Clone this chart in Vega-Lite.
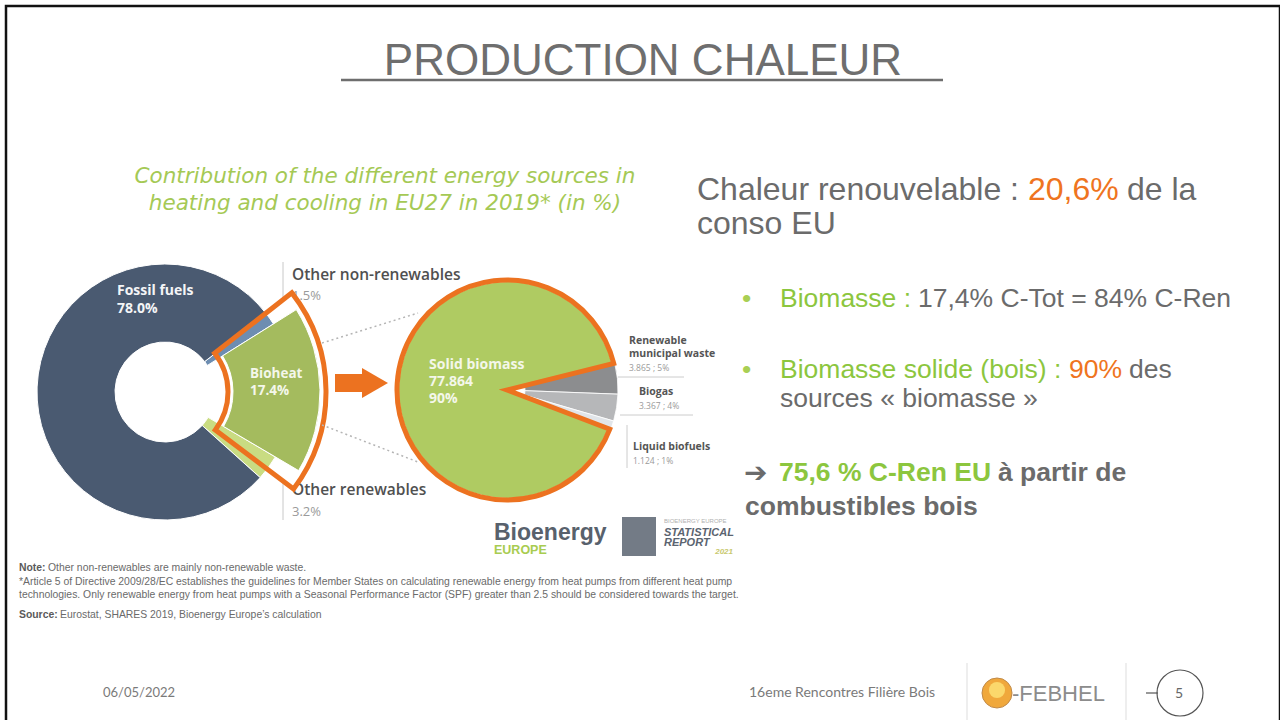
{
  "$schema": "https://vega.github.io/schema/vega-lite/v6.json",
  "width": 1274,
  "height": 716,
  "autosize": {"type": "none"},
  "padding": {"left": 6, "top": 6, "right": 0, "bottom": 0},
  "background": "white",
  "config": {"view": {"stroke": null}},
  "data": {"values": [{}]},
  "datasets": {
    "heat": [
      {"source": "Other non-renewables", "value": 1.5, "k": 1},
      {"source": "Bioheat", "value": 17.4, "k": 2},
      {"source": "Other renewables", "value": 3.2, "k": 3},
      {"source": "Fossil fuels", "value": 78.0, "k": 4}
    ],
    "bio": [
      {"source": "Renewable municipal waste", "value": 3.865, "share": 5, "k": 1},
      {"source": "Biogas", "value": 3.367, "share": 4, "k": 2},
      {"source": "Liquid biofuels", "value": 1.124, "share": 1, "k": 3},
      {"source": "Solid biomass", "value": 77.864, "share": 90, "k": 4}
    ]
  },
  "resolve": {"scale": {"theta": "independent"}},
  "layer": [
    {"mark": {"type": "rect", "fillOpacity": 0, "stroke": "#111111", "strokeWidth": 2.5}, "encoding": {"x": {"value": 0}, "x2": {"value": 1274}, "y": {"value": 0}, "y2": {"value": 720}}},
    {
      "data": {"name": "heat"},
      "transform": [
        {"stack": "value", "groupby": [], "sort": [{"field": "k", "order": "ascending"}], "as": ["v0", "v1"]},
        {"filter": "datum.source !== 'Bioheat'"}
      ],
      "mark": {"type": "arc", "x": 159, "y": 386, "radius": 128, "radius2": 50, "stroke": "white", "strokeWidth": 1},
      "encoding": {
        "theta": {"field": "v0", "type": "quantitative", "stack": null, "scale": {"domain": [0, 100.1], "range": [0.9163, 7.1995]}},
        "theta2": {"field": "v1"},
        "color": {"field": "source", "type": "nominal", "legend": null, "scale": {"domain": ["Fossil fuels", "Other non-renewables", "Bioheat", "Other renewables", "Solid biomass", "Renewable municipal waste", "Biogas", "Liquid biofuels"], "range": ["#4a5a71", "#6d8db1", "#a4bb5e", "#c9dc82", "#afcb62", "#8c8d8f", "#b6b7b9", "#e1e5e9"]}}
      }
    },
    {
      "data": {"name": "heat"},
      "transform": [
        {"stack": "value", "groupby": [], "sort": [{"field": "k", "order": "ascending"}], "as": ["v0", "v1"]},
        {"filter": "datum.source === 'Bioheat'"}
      ],
      "mark": {"type": "arc", "x": 159, "y": 386, "radius": 155, "radius2": 68, "stroke": "white", "strokeWidth": 1},
      "encoding": {
        "theta": {"field": "v0", "type": "quantitative", "stack": null, "scale": {"domain": [0, 100.1], "range": [0.9163, 7.1995]}},
        "theta2": {"field": "v1"},
        "color": {"field": "source", "type": "nominal", "legend": null, "scale": {"domain": ["Fossil fuels", "Other non-renewables", "Bioheat", "Other renewables", "Solid biomass", "Renewable municipal waste", "Biogas", "Liquid biofuels"], "range": ["#4a5a71", "#6d8db1", "#a4bb5e", "#c9dc82", "#afcb62", "#8c8d8f", "#b6b7b9", "#e1e5e9"]}}
      }
    },
    {
      "data": {"name": "heat"},
      "transform": [
        {"filter": "datum.source === 'Fossil fuels'"},
        {"calculate": "datum.source + '\\n' + format(datum.value, '.1f') + '%'", "as": "label"}
      ],
      "mark": {"type": "text", "x": 111, "y": 289, "align": "left", "baseline": "alphabetic", "lineBreak": "\n", "lineHeight": 18, "font": "Open Sans", "fontSize": 14, "fontWeight": "bold", "fill": "#f4f5f7"},
      "encoding": {"text": {"field": "label"}}
    },
    {
      "data": {"name": "heat"},
      "transform": [
        {"filter": "datum.source === 'Bioheat'"},
        {"calculate": "datum.source + '\\n' + format(datum.value, '.1f') + '%'", "as": "label"}
      ],
      "mark": {"type": "text", "x": 244, "y": 372, "align": "left", "baseline": "alphabetic", "lineBreak": "\n", "lineHeight": 17, "font": "Open Sans", "fontSize": 13.5, "fontWeight": "bold", "fill": "#f4f7ea"},
      "encoding": {"text": {"field": "label"}}
    },
    {
      "data": {"name": "heat"},
      "transform": [{"filter": "datum.source === 'Other non-renewables'"}],
      "mark": {"type": "text", "x": 286, "y": 274, "align": "left", "baseline": "alphabetic", "font": "Open Sans", "fontSize": 15.5, "fontWeight": 600, "fill": "#505050"},
      "encoding": {"text": {"field": "source"}}
    },
    {
      "data": {"name": "heat"},
      "transform": [
        {"filter": "datum.source === 'Other non-renewables'"},
        {"calculate": "format(datum.value, '.1f') + '%'", "as": "pct"}
      ],
      "mark": {"type": "text", "x": 286, "y": 294, "align": "left", "baseline": "alphabetic", "font": "Open Sans", "fontSize": 13, "fill": "#9a9a9a"},
      "encoding": {"text": {"field": "pct"}}
    },
    {
      "data": {"name": "heat"},
      "transform": [{"filter": "datum.source === 'Other renewables'"}],
      "mark": {"type": "text", "x": 286, "y": 489, "align": "left", "baseline": "alphabetic", "font": "Open Sans", "fontSize": 15.5, "fontWeight": 600, "fill": "#505050"},
      "encoding": {"text": {"field": "source"}}
    },
    {
      "data": {"name": "heat"},
      "transform": [
        {"filter": "datum.source === 'Other renewables'"},
        {"calculate": "format(datum.value, '.1f') + '%'", "as": "pct"}
      ],
      "mark": {"type": "text", "x": 286, "y": 510, "align": "left", "baseline": "alphabetic", "font": "Open Sans", "fontSize": 13, "fill": "#9a9a9a"},
      "encoding": {"text": {"field": "pct"}}
    },
    {"mark": {"type": "rule", "stroke": "#c8c8c8", "strokeWidth": 1}, "encoding": {"x": {"value": 277}, "x2": {"value": 277}, "y": {"value": 256}, "y2": {"value": 294}}},
    {"mark": {"type": "rule", "stroke": "#c8c8c8", "strokeWidth": 1}, "encoding": {"x": {"value": 277}, "x2": {"value": 277}, "y": {"value": 477}, "y2": {"value": 514}}},
    {
      "data": {"name": "heat"},
      "transform": [
        {"stack": "value", "groupby": [], "sort": [{"field": "k", "order": "ascending"}], "as": ["v0", "v1"]},
        {"filter": "datum.source === 'Bioheat'"}
      ],
      "mark": {"type": "arc", "x": 159, "y": 386, "radius": 161, "radius2": 63, "fillOpacity": 0, "stroke": "#ec7220", "strokeWidth": 5, "strokeJoin": "miter"},
      "encoding": {
        "theta": {"field": "v0", "type": "quantitative", "stack": null, "scale": {"domain": [0, 100.1], "range": [0.7947, 8.325]}},
        "theta2": {"field": "v1"}
      }
    },
    {"mark": {"type": "rule", "stroke": "#b5b5b5", "strokeWidth": 1.5, "strokeDash": [2, 3]}, "encoding": {"x": {"value": 316}, "y": {"value": 337}, "x2": {"value": 412}, "y2": {"value": 307}}},
    {"mark": {"type": "rule", "stroke": "#b5b5b5", "strokeWidth": 1.5, "strokeDash": [2, 3]}, "encoding": {"x": {"value": 316}, "y": {"value": 419}, "x2": {"value": 412}, "y2": {"value": 456}}},
    {"mark": {"type": "rect", "fill": "#ec7220"}, "encoding": {"x": {"value": 329}, "x2": {"value": 357}, "y": {"value": 368}, "y2": {"value": 386}}},
    {"mark": {"type": "point", "shape": "triangle-right", "x": 369, "y": 377, "size": 900, "filled": true, "fill": "#ec7220", "opacity": 1, "strokeWidth": 0}, "encoding": {}},
    {
      "data": {"name": "bio"},
      "transform": [
        {"stack": "value", "groupby": [], "sort": [{"field": "k", "order": "ascending"}], "as": ["v0", "v1"]},
        {"filter": "datum.source !== 'Solid biomass'"}
      ],
      "mark": {"type": "arc", "x": 501, "y": 384, "radius": 111, "radius2": 18, "stroke": "white", "strokeWidth": 0.8},
      "encoding": {
        "theta": {"field": "v0", "type": "quantitative", "stack": null, "scale": {"domain": [0, 86.22], "range": [1.3265, 7.6097]}},
        "theta2": {"field": "v1"},
        "color": {"field": "source", "type": "nominal", "legend": null, "scale": {"domain": ["Fossil fuels", "Other non-renewables", "Bioheat", "Other renewables", "Solid biomass", "Renewable municipal waste", "Biogas", "Liquid biofuels"], "range": ["#4a5a71", "#6d8db1", "#a4bb5e", "#c9dc82", "#afcb62", "#8c8d8f", "#b6b7b9", "#e1e5e9"]}}
      }
    },
    {
      "data": {"name": "bio"},
      "transform": [
        {"stack": "value", "groupby": [], "sort": [{"field": "k", "order": "ascending"}], "as": ["v0", "v1"]},
        {"filter": "datum.source === 'Solid biomass'"}
      ],
      "mark": {"type": "arc", "x": 501, "y": 384, "radius": 108, "radius2": 0},
      "encoding": {
        "theta": {"field": "v0", "type": "quantitative", "stack": null, "scale": {"domain": [0, 86.22], "range": [1.3265, 7.6097]}},
        "theta2": {"field": "v1"},
        "color": {"field": "source", "type": "nominal", "legend": null, "scale": {"domain": ["Fossil fuels", "Other non-renewables", "Bioheat", "Other renewables", "Solid biomass", "Renewable municipal waste", "Biogas", "Liquid biofuels"], "range": ["#4a5a71", "#6d8db1", "#a4bb5e", "#c9dc82", "#afcb62", "#8c8d8f", "#b6b7b9", "#e1e5e9"]}}
      }
    },
    {
      "data": {"name": "bio"},
      "transform": [
        {"stack": "value", "groupby": [], "sort": [{"field": "k", "order": "ascending"}], "as": ["v0", "v1"]},
        {"filter": "datum.source === 'Solid biomass'"}
      ],
      "mark": {"type": "arc", "x": 501, "y": 384, "radius": 110, "radius2": 0, "fillOpacity": 0, "stroke": "#ec7220", "strokeWidth": 5, "strokeJoin": "miter"},
      "encoding": {
        "theta": {"field": "v0", "type": "quantitative", "stack": null, "scale": {"domain": [0, 86.22], "range": [1.3265, 7.6097]}},
        "theta2": {"field": "v1"}
      }
    },
    {
      "data": {"name": "bio"},
      "transform": [
        {"filter": "datum.source === 'Solid biomass'"},
        {"calculate": "datum.source + '\\n' + format(datum.value, '.3f') + '\\n' + datum.share + '%'", "as": "label"}
      ],
      "mark": {"type": "text", "x": 423, "y": 363, "align": "left", "baseline": "alphabetic", "lineBreak": "\n", "lineHeight": 17, "font": "Open Sans", "fontSize": 14, "fontWeight": "bold", "fill": "#f4f7ea"},
      "encoding": {"text": {"field": "label"}}
    },
    {
      "data": {"name": "bio"},
      "transform": [
        {"filter": "datum.source === 'Renewable municipal waste'"},
        {"calculate": "replace(datum.source, 'Renewable ', 'Renewable\\n')", "as": "label"}
      ],
      "mark": {"type": "text", "x": 623, "y": 338, "align": "left", "baseline": "alphabetic", "lineBreak": "\n", "lineHeight": 13, "font": "Open Sans", "fontSize": 10.5, "fontWeight": "bold", "fill": "#555555"},
      "encoding": {"text": {"field": "label"}}
    },
    {
      "data": {"name": "bio"},
      "transform": [
        {"filter": "datum.source === 'Renewable municipal waste'"},
        {"calculate": "format(datum.value, '.3f') + ' ; ' + datum.share + '%'", "as": "lab"}
      ],
      "mark": {"type": "text", "x": 623, "y": 365, "align": "left", "baseline": "alphabetic", "font": "Open Sans", "fontSize": 8.5, "fill": "#9a9a9a"},
      "encoding": {"text": {"field": "lab"}}
    },
    {
      "data": {"name": "bio"},
      "transform": [{"filter": "datum.source === 'Biogas'"}],
      "mark": {"type": "text", "x": 633, "y": 389, "align": "left", "baseline": "alphabetic", "font": "Open Sans", "fontSize": 10.5, "fontWeight": "bold", "fill": "#555555"},
      "encoding": {"text": {"field": "source"}}
    },
    {
      "data": {"name": "bio"},
      "transform": [
        {"filter": "datum.source === 'Biogas'"},
        {"calculate": "format(datum.value, '.3f') + ' ; ' + datum.share + '%'", "as": "lab"}
      ],
      "mark": {"type": "text", "x": 633, "y": 403, "align": "left", "baseline": "alphabetic", "font": "Open Sans", "fontSize": 8.5, "fill": "#9a9a9a"},
      "encoding": {"text": {"field": "lab"}}
    },
    {
      "data": {"name": "bio"},
      "transform": [{"filter": "datum.source === 'Liquid biofuels'"}],
      "mark": {"type": "text", "x": 627, "y": 444, "align": "left", "baseline": "alphabetic", "font": "Open Sans", "fontSize": 10.5, "fontWeight": "bold", "fill": "#555555"},
      "encoding": {"text": {"field": "source"}}
    },
    {
      "data": {"name": "bio"},
      "transform": [
        {"filter": "datum.source === 'Liquid biofuels'"},
        {"calculate": "format(datum.value, '.3f') + ' ; ' + datum.share + '%'", "as": "lab"}
      ],
      "mark": {"type": "text", "x": 627, "y": 458, "align": "left", "baseline": "alphabetic", "font": "Open Sans", "fontSize": 8.5, "fill": "#9a9a9a"},
      "encoding": {"text": {"field": "lab"}}
    },
    {"mark": {"type": "rule", "stroke": "#cccccc", "strokeWidth": 1}, "encoding": {"x": {"value": 612}, "x2": {"value": 678}, "y": {"value": 371}, "y2": {"value": 371}}},
    {"mark": {"type": "rule", "stroke": "#cccccc", "strokeWidth": 1}, "encoding": {"x": {"value": 614}, "x2": {"value": 687}, "y": {"value": 409}, "y2": {"value": 409}}},
    {"mark": {"type": "rule", "stroke": "#cccccc", "strokeWidth": 1}, "encoding": {"x": {"value": 621}, "x2": {"value": 621}, "y": {"value": 419}, "y2": {"value": 462}}},
    {"mark": {"type": "text", "text": "PRODUCTION CHALEUR", "x": 637, "y": 69, "align": "center", "baseline": "alphabetic", "font": "Liberation Sans", "fontSize": 44, "fill": "#6e6e6e"}, "encoding": {}},
    {"mark": {"type": "rule", "stroke": "#6e6e6e", "strokeWidth": 2.5}, "encoding": {"x": {"value": 335}, "x2": {"value": 937}, "y": {"value": 74}, "y2": {"value": 74}}},
    {"mark": {"type": "text", "text": "Contribution of the different energy sources in", "x": 379, "y": 171, "align": "center", "baseline": "middle", "font": "DejaVu Sans", "fontSize": 21.5, "fontStyle": "italic", "fontWeight": 500, "fill": "#a5c955"}, "encoding": {}},
    {"mark": {"type": "text", "text": "heating and cooling in EU27 in 2019* (in %)", "x": 379, "y": 198, "align": "center", "baseline": "middle", "font": "DejaVu Sans", "fontSize": 21.5, "fontStyle": "italic", "fontWeight": 500, "fill": "#a5c955"}, "encoding": {}},
    {"mark": {"type": "text", "text": "Bioenergy", "x": 488, "y": 534, "align": "left", "baseline": "alphabetic", "font": "Liberation Sans", "fontSize": 23, "fontWeight": "bold", "fill": "#58616c"}, "encoding": {}},
    {"mark": {"type": "text", "text": "EUROPE", "x": 488, "y": 548, "align": "left", "baseline": "alphabetic", "font": "Liberation Sans", "fontSize": 12.5, "fontWeight": "bold", "fill": "#a8cc50"}, "encoding": {}},
    {"mark": {"type": "rect", "fill": "#737b86"}, "encoding": {"x": {"value": 616}, "x2": {"value": 650}, "y": {"value": 511}, "y2": {"value": 550}}},
    {"mark": {"type": "text", "text": "BIOENERGY EUROPE", "x": 658, "y": 517, "align": "left", "baseline": "alphabetic", "font": "Liberation Sans", "fontSize": 6, "fill": "#b0b0b0"}, "encoding": {}},
    {"mark": {"type": "text", "text": "STATISTICAL", "x": 658, "y": 530, "align": "left", "baseline": "alphabetic", "font": "Liberation Sans", "fontSize": 11, "fontStyle": "italic", "fontWeight": "bold", "fill": "#5b6470"}, "encoding": {}},
    {"mark": {"type": "text", "text": "REPORT", "x": 658, "y": 540, "align": "left", "baseline": "alphabetic", "font": "Liberation Sans", "fontSize": 11, "fontStyle": "italic", "fontWeight": "bold", "fill": "#5b6470"}, "encoding": {}},
    {"mark": {"type": "text", "text": "2021", "x": 727, "y": 548, "align": "right", "baseline": "alphabetic", "font": "Liberation Sans", "fontSize": 8, "fontStyle": "italic", "fontWeight": "bold", "fill": "#c9c96e"}, "encoding": {}},
    {"mark": {"type": "text", "text": "Note:", "x": 13, "y": 565, "align": "left", "baseline": "alphabetic", "font": "Liberation Sans", "fontSize": 10.4, "fontWeight": "bold", "fill": "#5a5a5a"}, "encoding": {}},
    {"mark": {"type": "text", "text": "Other non-renewables are mainly non-renewable waste.", "x": 42, "y": 565, "align": "left", "baseline": "alphabetic", "font": "Liberation Sans", "fontSize": 10.4, "fill": "#6a6a6a"}, "encoding": {}},
    {"mark": {"type": "text", "text": "*Article 5 of Directive 2009/28/EC establishes the guidelines for Member States on calculating renewable energy from heat pumps from different heat pump", "x": 13, "y": 579, "align": "left", "baseline": "alphabetic", "font": "Liberation Sans", "fontSize": 10.4, "fill": "#6a6a6a"}, "encoding": {}},
    {"mark": {"type": "text", "text": "technologies. Only renewable energy from heat pumps with a Seasonal Performance Factor (SPF) greater than 2.5 should be considered towards the target.", "x": 13, "y": 592, "align": "left", "baseline": "alphabetic", "font": "Liberation Sans", "fontSize": 10.4, "fill": "#6a6a6a"}, "encoding": {}},
    {"mark": {"type": "text", "text": "Source:", "x": 13, "y": 612, "align": "left", "baseline": "alphabetic", "font": "Liberation Sans", "fontSize": 10.4, "fontWeight": "bold", "fill": "#5a5a5a"}, "encoding": {}},
    {"mark": {"type": "text", "text": "Eurostat, SHARES 2019, Bioenergy Europe’s calculation", "x": 54, "y": 612, "align": "left", "baseline": "alphabetic", "font": "Liberation Sans", "fontSize": 10.4, "fill": "#6a6a6a"}, "encoding": {}},
    {"mark": {"type": "text", "text": "Chaleur renouvelable :", "x": 691, "y": 194, "align": "left", "baseline": "alphabetic", "font": "Liberation Sans", "fontSize": 32, "fill": "#6b6b6b"}, "encoding": {}},
    {"mark": {"type": "text", "text": "20,6%", "x": 1022, "y": 194, "align": "left", "baseline": "alphabetic", "font": "Liberation Sans", "fontSize": 32, "fill": "#ef7420"}, "encoding": {}},
    {"mark": {"type": "text", "text": "de la", "x": 1121, "y": 194, "align": "left", "baseline": "alphabetic", "font": "Liberation Sans", "fontSize": 32, "fill": "#6b6b6b"}, "encoding": {}},
    {"mark": {"type": "text", "text": "conso EU", "x": 691, "y": 228, "align": "left", "baseline": "alphabetic", "font": "Liberation Sans", "fontSize": 32, "fill": "#6b6b6b"}, "encoding": {}},
    {"mark": {"type": "text", "text": "•", "x": 736, "y": 301, "align": "left", "baseline": "alphabetic", "font": "Liberation Sans", "fontSize": 26.5, "fill": "#a9cf54"}, "encoding": {}},
    {"mark": {"type": "text", "text": "Biomasse :", "x": 774, "y": 301, "align": "left", "baseline": "alphabetic", "font": "Liberation Sans", "fontSize": 26.5, "fill": "#8cc63e"}, "encoding": {}},
    {"mark": {"type": "text", "text": "17,4% C-Tot = 84% C-Ren", "x": 912, "y": 301, "align": "left", "baseline": "alphabetic", "font": "Liberation Sans", "fontSize": 26.5, "fill": "#6b6b6b"}, "encoding": {}},
    {"mark": {"type": "text", "text": "•", "x": 736, "y": 372, "align": "left", "baseline": "alphabetic", "font": "Liberation Sans", "fontSize": 26.5, "fill": "#a9cf54"}, "encoding": {}},
    {"mark": {"type": "text", "text": "Biomasse solide (bois) :", "x": 774, "y": 372, "align": "left", "baseline": "alphabetic", "font": "Liberation Sans", "fontSize": 26.5, "fill": "#8cc63e"}, "encoding": {}},
    {"mark": {"type": "text", "text": "90%", "x": 1063, "y": 372, "align": "left", "baseline": "alphabetic", "font": "Liberation Sans", "fontSize": 26.5, "fill": "#ef7420"}, "encoding": {}},
    {"mark": {"type": "text", "text": "des", "x": 1123, "y": 372, "align": "left", "baseline": "alphabetic", "font": "Liberation Sans", "fontSize": 26.5, "fill": "#6b6b6b"}, "encoding": {}},
    {"mark": {"type": "text", "text": "sources « biomasse »", "x": 774, "y": 401, "align": "left", "baseline": "alphabetic", "font": "Liberation Sans", "fontSize": 26.5, "fill": "#6b6b6b"}, "encoding": {}},
    {"mark": {"type": "text", "text": "➔", "x": 738, "y": 476, "align": "left", "baseline": "alphabetic", "font": "DejaVu Sans", "fontSize": 28, "fontWeight": "bold", "fill": "#6b6b6b"}, "encoding": {}},
    {"mark": {"type": "text", "text": "75,6 % C-Ren EU", "x": 773, "y": 475, "align": "left", "baseline": "alphabetic", "font": "Liberation Sans", "fontSize": 26.5, "fontWeight": "bold", "fill": "#8cc63e"}, "encoding": {}},
    {"mark": {"type": "text", "text": "à partir de", "x": 992, "y": 475, "align": "left", "baseline": "alphabetic", "font": "Liberation Sans", "fontSize": 26.5, "fontWeight": "bold", "fill": "#6b6b6b"}, "encoding": {}},
    {"mark": {"type": "text", "text": "combustibles bois", "x": 739, "y": 509, "align": "left", "baseline": "alphabetic", "font": "Liberation Sans", "fontSize": 26.5, "fontWeight": "bold", "fill": "#6b6b6b"}, "encoding": {}},
    {"mark": {"type": "text", "text": "06/05/2022", "x": 97, "y": 687, "align": "left", "baseline": "middle", "font": "Lato", "fontSize": 13, "fill": "#7a7a7a"}, "encoding": {}},
    {"mark": {"type": "text", "text": "16eme Rencontres Filière Bois", "x": 743, "y": 687, "align": "left", "baseline": "middle", "font": "Lato", "fontSize": 14, "fill": "#7a7a7a"}, "encoding": {}},
    {"mark": {"type": "rule", "stroke": "#dddddd", "strokeWidth": 1}, "encoding": {"x": {"value": 961}, "x2": {"value": 961}, "y": {"value": 657}, "y2": {"value": 714}}},
    {"mark": {"type": "rule", "stroke": "#dddddd", "strokeWidth": 1}, "encoding": {"x": {"value": 1120}, "x2": {"value": 1120}, "y": {"value": 657}, "y2": {"value": 714}}},
    {"mark": {"type": "point", "shape": "circle", "x": 991, "y": 687, "size": 900, "filled": true, "fill": "#f0a83c", "opacity": 1, "stroke": "#c08a4a", "strokeWidth": 1}, "encoding": {}},
    {"mark": {"type": "point", "shape": "circle", "x": 991, "y": 684, "size": 260, "filled": true, "fill": "#fbd86c", "opacity": 1, "strokeWidth": 0}, "encoding": {}},
    {"mark": {"type": "text", "text": "-FEBHEL", "x": 1006, "y": 688, "align": "left", "baseline": "middle", "font": "Liberation Sans", "fontSize": 22, "fill": "#8c8c8c"}, "encoding": {}},
    {"mark": {"type": "rule", "stroke": "#555555", "strokeWidth": 1.2}, "encoding": {"x": {"value": 1140}, "x2": {"value": 1152}, "y": {"value": 687}, "y2": {"value": 687}}},
    {"mark": {"type": "point", "shape": "circle", "x": 1174, "y": 687, "size": 2116, "filled": false, "opacity": 1, "stroke": "#555555", "strokeWidth": 1.2}, "encoding": {}},
    {"mark": {"type": "text", "text": "5", "x": 1173, "y": 688, "align": "center", "baseline": "middle", "font": "Lato", "fontSize": 14, "fill": "#666666"}, "encoding": {}}
  ]
}
